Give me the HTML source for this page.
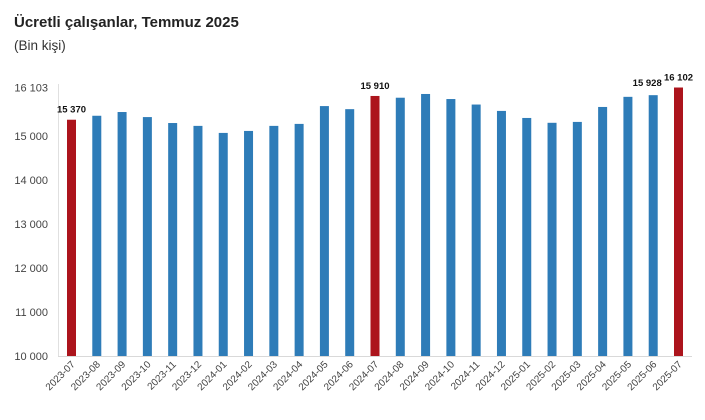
<!DOCTYPE html>
<html><head><meta charset="utf-8"><style>
body{margin:0;background:#fff;font-family:"Liberation Sans",sans-serif}
svg{display:block}
</style></head><body>
<svg id="c" width="705" height="420" xmlns="http://www.w3.org/2000/svg">
<text x="14" y="27" font-size="15" font-weight="bold" fill="#222">Ücretli çalışanlar, Temmuz 2025</text>
<text x="14" y="50" font-size="13.5" fill="#333">(Bin kişi)</text>
<line x1="58.5" y1="84" x2="58.5" y2="356" stroke="#e0e0e0"/>
<line x1="58" y1="356.5" x2="692" y2="356.5" stroke="#d9d9d9"/>
<g id="g"></g>
</svg>
<script>
const categories=["2023-07","2023-08","2023-09","2023-10","2023-11","2023-12","2024-01","2024-02","2024-03","2024-04","2024-05","2024-06","2024-07","2024-08","2024-09","2024-10","2024-11","2024-12","2025-01","2025-02","2025-03","2025-04","2025-05","2025-06","2025-07"];
const values=[15370,15460,15545,15430,15295,15230,15070,15115,15230,15275,15680,15610,15910,15870,15955,15840,15715,15570,15410,15300,15320,15660,15890,15928,16102];
const highlighted=[0,12,24];
const labelled=[0,12,23,24];
const labelTexts=["15 370","15 910","15 928","16 102"];
const yTicks=[10000,11000,12000,13000,14000,15000,16103];
const yTickLabels=["10 000","11 000","12 000","13 000","14 000","15 000","16 103"];
const NS="http://www.w3.org/2000/svg",g=document.getElementById('g');
const y=v=>356-(v-10000)*0.044;
const x=i=>71.5+i*(678.5-71.5)/(categories.length-1);
function mk(t,a){const e=document.createElementNS(NS,t);for(const k in a)e.setAttribute(k,a[k]);g.appendChild(e);return e;}
yTicks.forEach((t,i)=>{const e=mk('text',{x:48,y:y(t)+4,'font-size':11,fill:'#444','text-anchor':'end'});e.textContent=yTickLabels[i];

});
values.forEach((v,i)=>{
const r=mk('rect',{x:x(i)-4.5,y:y(v),width:9,height:356-y(v),fill:highlighted.includes(i)?'#ac141c':'#2e7cb8'});


const t=mk('text',{'font-size':10,fill:'#444','text-anchor':'end',transform:`translate(${x(i)+4},365) rotate(-45)`});
t.textContent=categories[i];


const li=labelled.indexOf(i);
if(li>=0){const l=mk('text',{x:x(i)-(i===23?6:0),y:y(v)-(i===23?9:7),'font-size':9.5,'font-weight':'bold',fill:'#111','text-anchor':'middle'});
l.textContent=labelTexts[li];

}
});
</script>
</body></html>
